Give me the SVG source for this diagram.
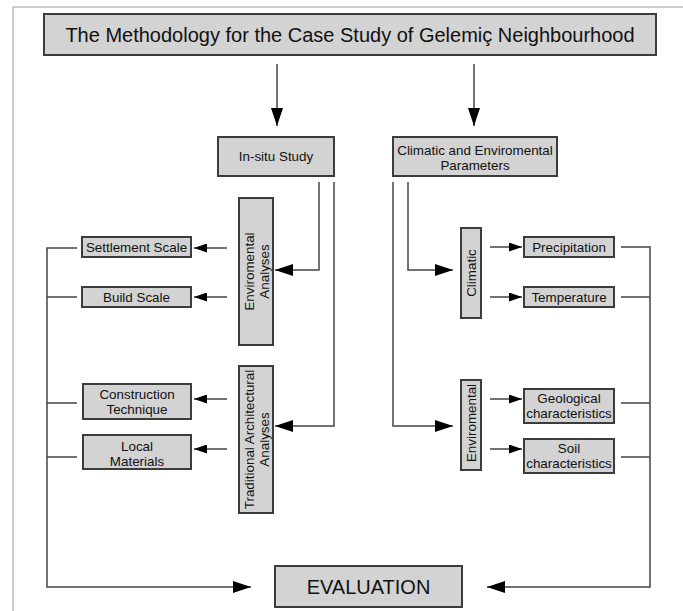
<svg xmlns="http://www.w3.org/2000/svg" width="683" height="611" viewBox="0 0 683 611">
<style>
.box{fill:#d3d3d3;stroke:#3c3c3c;stroke-width:2}
.t{font-family:"Liberation Sans",Arial,sans-serif;font-size:13.4px;fill:#111;text-anchor:middle}
.ln{fill:none;stroke:#444;stroke-width:1.5}
.frame{fill:none;stroke:#999;stroke-width:1}
</style>
<defs>
<marker id="big" viewBox="0 0 18 12" refX="18" refY="6" markerWidth="18" markerHeight="12" markerUnits="userSpaceOnUse" orient="auto"><path d="M0,0 L18,6 L0,12 z" fill="#000"/></marker>
<marker id="sm" viewBox="0 0 13 9" refX="13" refY="4.5" markerWidth="13" markerHeight="9" markerUnits="userSpaceOnUse" orient="auto"><path d="M0,0 L13,4.5 L0,9 z" fill="#000"/></marker>
</defs>
<rect width="683" height="611" fill="#fff"/>
<path class="frame" d="M13,611 V7 H683"/>

<g id="connectors">
<path class="ln" d="M277,64 V126" marker-end="url(#big)"/>
<path class="ln" d="M474,64 V126" marker-end="url(#big)"/>
<path class="ln" d="M319,182 V270 H275" marker-end="url(#big)"/>
<path class="ln" d="M334,182 V426 H275" marker-end="url(#big)"/>
<path class="ln" d="M408,182 V270 H453" marker-end="url(#big)"/>
<path class="ln" d="M393,182 V426 H453" marker-end="url(#big)"/>
<path class="ln" d="M490,247 H522" marker-end="url(#sm)"/>
<path class="ln" d="M490,297 H522" marker-end="url(#sm)"/>
<path class="ln" d="M490,399 H522" marker-end="url(#sm)"/>
<path class="ln" d="M490,449 H522" marker-end="url(#sm)"/>
<path class="ln" d="M227,248 H194" marker-end="url(#sm)"/>
<path class="ln" d="M227,297 H194" marker-end="url(#sm)"/>
<path class="ln" d="M227,399 H194" marker-end="url(#sm)"/>
<path class="ln" d="M227,449 H194" marker-end="url(#sm)"/>
<path class="ln" d="M77,248 H47 V587 H251" marker-end="url(#big)"/>
<path class="ln" d="M77,297 H47 M77,403 H47 M77,457 H47"/>
<path class="ln" d="M621,247 H650 V587 H487" marker-end="url(#big)"/>
<path class="ln" d="M621,297 H650 M621,403 H650 M621,457 H650"/>
</g>

<g id="title">
<rect class="box" x="44" y="14" width="612" height="41"/>
<text class="t" x="350" y="41.5" style="font-size:20px">The Methodology for the Case Study of Gelemiç Neighbourhood</text>
</g>
<g id="insitu">
<rect class="box" x="218" y="137" width="116" height="39"/>
<text class="t" x="276" y="161">In-situ Study</text>
</g>
<g id="params">
<rect class="box" x="393" y="137" width="164" height="39"/>
<text class="t" x="475" y="155">Climatic and Enviromental</text>
<text class="t" x="475" y="170">Parameters</text>
</g>
<g id="envanalyses">
<rect class="box" x="239" y="198" width="34" height="147"/>
<text class="t" transform="translate(256,271.5) rotate(-90)"><tspan x="0" y="-2">Enviromental</tspan><tspan x="0" y="13">Analyses</tspan></text>
</g>
<g id="tradanalyses">
<rect class="box" x="239" y="366" width="34" height="147"/>
<text class="t" transform="translate(256,439.5) rotate(-90)"><tspan x="0" y="-2">Traditional Architectural</tspan><tspan x="0" y="13">Analyses</tspan></text>
</g>
<g id="settlement">
<rect class="box" x="82" y="237" width="109" height="20"/>
<text class="t" x="136.5" y="252">Settlement Scale</text>
</g>
<g id="build">
<rect class="box" x="82" y="287" width="109" height="20"/>
<text class="t" x="136.5" y="302">Build Scale</text>
</g>
<g id="construction">
<rect class="box" x="83" y="384" width="108" height="35"/>
<text class="t" x="137" y="399">Construction</text>
<text class="t" x="137" y="414">Technique</text>
</g>
<g id="local">
<rect class="box" x="83" y="435" width="108" height="34"/>
<text class="t" x="137" y="451">Local</text>
<text class="t" x="137" y="466">Materials</text>
</g>
<g id="climatic">
<rect class="box" x="461" y="228" width="20" height="90"/>
<text class="t" transform="translate(471,273) rotate(-90)" x="0" y="5">Climatic</text>
</g>
<g id="enviromental">
<rect class="box" x="461" y="380" width="20" height="90"/>
<text class="t" transform="translate(471,423) rotate(-90)" x="0" y="5">Enviromental</text>
</g>
<g id="precipitation">
<rect class="box" x="524" y="237" width="90" height="20"/>
<text class="t" x="569" y="252">Precipitation</text>
</g>
<g id="temperature">
<rect class="box" x="524" y="287" width="90" height="20"/>
<text class="t" x="569" y="302">Temperature</text>
</g>
<g id="geological">
<rect class="box" x="524" y="389" width="90" height="34"/>
<text class="t" x="569" y="403">Geological</text>
<text class="t" x="569" y="418">characteristics</text>
</g>
<g id="soil">
<rect class="box" x="524" y="439" width="90" height="34"/>
<text class="t" x="569" y="453">Soil</text>
<text class="t" x="569" y="468">characteristics</text>
</g>
<g id="evaluation">
<rect class="box" x="275" y="566" width="187" height="41"/>
<text class="t" x="368.5" y="593.5" style="font-size:20px">EVALUATION</text>
</g>
</svg>
